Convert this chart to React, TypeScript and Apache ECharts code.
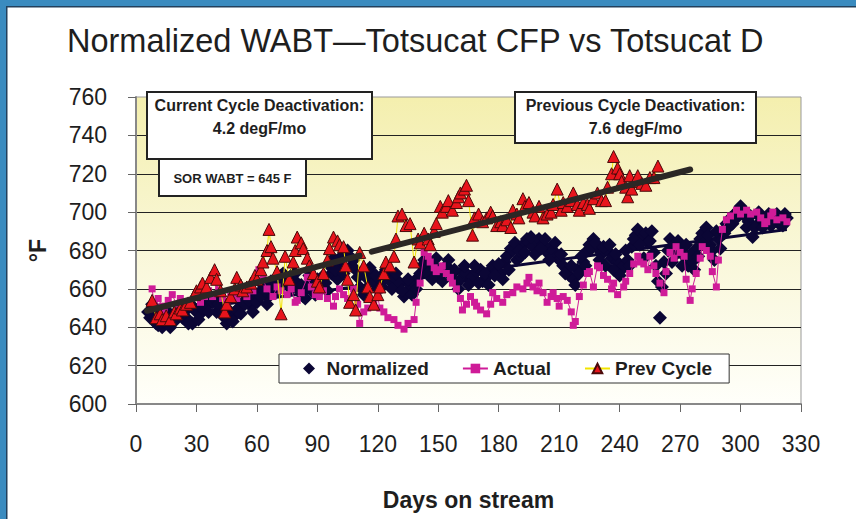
import React, { useEffect, useRef } from "react";
import * as echarts from "echarts";

const TITLE = "Normalized WABT—Totsucat CFP vs Totsucat D";
const X_NAME = "Days on stream";
const Y_NAME = "°F";
const SERIES_NAMES = ["Normalized", "Actual", "Prev Cycle"];

// [day, °F]
const normalized: [number, number][] = [
  [6,648],[8,652],[10,642],[12,646],[13,640],[15,644],[17,640],[19,647],[20,644],[22,650],[25,645],[27,652],[28,642],[30,648],[32,647],[34,654],[35,651],[37,656],[38,653],[40,648],[42,650],[44,645],[45,642],[47,648],[49,646],[51,650],[53,653],[55,657],[57,651],[59,655],[61,658],[63,662],[66,656],[68,660],[70,663],[72,667],[73,668],[75,662],[76,665],[78,668],[80,663],[81,659],[83,656],[85,661],[87,664],[90,665],[92,660],[95,659],[97,668],[98,676],[100,665],[102,672],[104,679],[105,680],[107,672],[108,675],[110,666],[111,661],[113,657],[115,665],[117,668],[118,663],[120,660],[121,665],[123,668],[124,670],[126,664],[128,666],[130,661],[131,663],[133,656],[134,658],[136,662],[138,663],[140,666],[141,668],[143,675],[144,670],[146,674],[148,672],[150,666],[151,668],[153,671],[154,672],[156,667],[157,668],[159,663],[161,665],[162,669],[164,668],[166,664],[167,666],[169,669],[171,670],[172,664],[174,666],[176,670],[177,672],[179,669],[181,668],[183,674],[184,677],[186,681],[187,680],[189,675],[191,677],[192,683],[194,686],[195,684],[197,682],[199,685],[200,686],[202,683],[204,679],[206,682],[207,680],[209,677],[210,675],[212,672],[214,670],[215,667],[217,665],[219,670],[220,668],[222,674],[224,680],[225,683],[227,686],[229,681],[231,678],[234,680],[236,676],[239,674],[241,670],[242,672],[244,675],[246,682],[248,688],[249,691],[251,686],[253,689],[254,684],[255,685],[257,679],[258,672],[259,664],[260,645],[261,661],[262,674],[264,680],[265,686],[267,683],[268,678],[270,680],[272,677],[274,672],[276,674],[278,681],[280,686],[281,689],[283,692],[285,683],[286,680],[287,675],[289,686],[291,690],[293,694],[295,697],[297,699],[299,701],[300,703],[302,698],[304,695],[306,687],[308,693],[310,697],[312,695],[313,696],[315,693],[317,698],[319,694],[320,696],[322,699],[323,697],
  [7,645],[9,650],[11,641],[14,643],[16,648],[18,643],[21,648],[23,645],[24,648],[26,642],[29,650],[31,644],[33,650],[36,648],[39,655],[41,652],[43,647],[46,644],[48,643],[50,649],[52,647],[54,652],[56,654],[58,648],[60,653],[62,656],[64,659],[65,652],[67,664],[69,658],[71,660],[74,664],[77,660],[79,668],[82,662],[84,655],[86,667],[88,660],[89,657],[91,662],[93,667],[94,663],[96,672],[99,670],[101,676],[103,668],[106,677],[109,670],
  [112,668],[114,660],[116,671],[119,667],[122,661],[125,669],[127,660],[129,668],[132,659],[135,665],[137,657],[139,660],[142,672],[145,668],[147,665],[149,676],[152,664],[155,675],[158,670],[160,660],[163,672],[165,662],[168,672],[170,663],[173,668],[175,662],[178,667],[180,673],[182,665],[185,670],[188,684],[190,680],[193,679],[196,687],[198,678],[201,681],[203,686],[205,675],[208,684],[211,678],[213,668],[216,672],[218,662],[221,677],[223,672],[226,681],[228,684],[230,675],[232,682],[233,672],[235,683],[237,670],[238,678],[240,667],[243,680],[245,672],[247,686],[250,683],[252,676],[256,690],[263,668],[266,674],[269,685],[271,672],[273,683],[275,678],[277,670],[279,677],[282,684],[284,688],[288,690],[290,681],[292,689],[294,692],[296,694],[298,697],[301,700],[303,692],[305,698],[307,692],[309,700],[311,692],[314,699],[316,694],[318,699],[321,693]
];

const actual: [number, number][] = [
  [8,660],[9,652],[11,655],[13,651],[14,648],[16,654],[18,657],[20,652],[22,655],[25,651],[27,654],[30,658],[32,653],[34,656],[36,659],[38,656],[41,660],[43,655],[45,652],[47,656],[50,655],[52,658],[55,656],[58,659],[60,664],[61,670],[63,665],[65,660],[68,656],[70,661],[72,659],[75,657],[77,660],[79,653],[80,654],[82,658],[85,666],[87,661],[89,657],[91,656],[93,659],[95,655],[98,651],[99,656],[101,660],[103,657],[105,655],[108,660],[110,652],[111,642],[113,648],[115,650],[118,653],[120,656],[121,650],[123,648],[125,645],[128,644],[130,641],[133,639],[135,642],[138,644],[139,653],[141,663],[143,679],[145,677],[146,674],[148,671],[149,669],[151,670],[152,672],[154,668],[156,666],[157,663],[159,660],[161,655],[162,649],[164,652],[166,656],[168,653],[169,651],[171,649],[174,647],[176,652],[177,658],[179,655],[182,653],[184,657],[187,658],[189,661],[192,660],[194,663],[195,666],[197,661],[199,659],[200,663],[202,658],[204,653],[206,656],[207,658],[209,655],[210,651],[212,656],[214,654],[216,648],[217,641],[218,643],[220,656],[222,662],[224,668],[225,669],[227,661],[229,672],[230,671],[232,667],[234,665],[236,660],[237,663],[239,657],[242,661],[243,664],[245,668],[247,673],[249,677],[250,674],[252,673],[254,670],[255,677],[257,672],[258,668],[260,663],[262,658],[263,669],[265,679],[267,676],[268,682],[270,679],[272,677],[273,665],[275,654],[276,660],[278,668],[280,676],[281,682],[283,680],[285,677],[286,669],[288,661],[289,675],[291,691],[293,696],[295,698],[298,701],[300,699],[303,701],[305,699],[308,700],[310,697],[312,694],[313,695],[315,698],[316,700],[318,696],[321,697],[323,695]
];

const prevCycle: [number, number][] = [
  [8,654],[10,645],[12,647],[13,644],[15,646],[17,644],[19,648],[20,647],[22,650],[23,649],[25,652],[27,653],[29,657],[30,659],[32,661],[33,663],[35,661],[37,666],[39,670],[40,665],[42,659],[44,648],[45,652],[47,656],[49,660],[50,666],[52,662],[53,659],[55,661],[57,663],[59,667],[60,665],[62,670],[63,674],[65,680],[66,691],[67,682],[68,676],[70,669],[72,647],[74,677],[76,665],[78,674],[79,680],[80,687],[82,684],[83,681],[85,676],[86,672],[88,668],[90,664],[91,661],[93,668],[95,675],[96,681],[98,687],[100,685],[101,683],[103,682],[104,672],[105,665],[106,653],[108,657],[109,649],[111,679],[113,672],[115,661],[116,656],[118,652],[120,657],[121,661],[123,668],[124,674],[126,672],[128,677],[129,686],[130,698],[132,699],[134,693],[136,694],[138,674],[140,686],[141,684],[143,689],[145,686],[146,683],[148,690],[149,694],[151,703],[152,700],[154,703],[155,706],[157,701],[159,705],[160,708],[161,710],[163,712],[164,714],[165,706],[167,688],[168,697],[170,699],[172,695],[174,697],[176,700],[177,698],[179,693],[181,695],[182,693],[184,696],[186,692],[187,701],[189,699],[190,697],[192,707],[193,703],[195,705],[197,700],[198,698],[200,703],[202,697],[204,699],[206,700],[207,704],[209,712],[211,701],[212,705],[214,703],[216,706],[217,710],[219,704],[220,701],[222,705],[224,704],[225,702],[227,707],[229,710],[231,706],[233,706],[234,713],[236,720],[237,729],[239,723],[240,720],[241,716],[243,713],[244,708],[245,719],[246,712],[248,716],[249,719],[251,715],[253,714],[255,718],[257,718],[259,724]
];

// trend lines
const prevTrendA: [number, number][] = [[5.5, 648.6], [111, 677.3]];
const prevTrendB: [number, number][] = [[117, 679.4], [275, 722.2]];
const currTrend: [number, number][] = [[8, 647], [323, 691]];

const NOTE_CURRENT = ["Current Cycle Deactivation:", "4.2 degF/mo"];
const NOTE_PREV = ["Previous Cycle Deactivation:", "7.6 degF/mo"];
const NOTE_SOR = "SOR WABT = 645 F";

const FONT = "'Liberation Sans', Arial, sans-serif";

export default function App() {
  const ref = useRef<HTMLDivElement>(null);
  useEffect(() => {
    if (!ref.current) return;
    const chart = echarts.init(ref.current, null, { renderer: "svg" });
    const noteText = (x: number, y: number, text: string, size: number) => ({
      type: "text",
      z: 101,
      style: {
        text,
        x,
        y,
        textAlign: "center",
        textVerticalAlign: "middle",
        font: `bold ${size}px ${FONT}`,
        fill: "#1e1e1e",
      },
    });
    const option: any = {
      animation: false,
      backgroundColor: "#ffffff",
      title: {
        text: TITLE,
        left: 62,
        top: 19,
        textStyle: { fontFamily: FONT, fontSize: 32.5, fontWeight: "normal", color: "#1e1e1e" },
      },
      grid: {
        left: 136,
        right: 55,
        top: 97,
        bottom: 115,
        show: true,
        borderColor: "#999",
        borderWidth: 1,
        backgroundColor: {
          type: "linear",
          x: 0, y: 0, x2: 0, y2: 1,
          colorStops: [
            { offset: 0, color: "#f4efae" },
            { offset: 0.5, color: "#f9f7d8" },
            { offset: 1, color: "#fffffa" },
          ],
        },
      },
      legend: {
        data: [
          { name: SERIES_NAMES[0], icon: "path://M5,0 L10,5 L5,10 L0,5 Z" },
          { name: SERIES_NAMES[1] },
          { name: SERIES_NAMES[2] },
        ],
        left: 279,
        top: 354,
        padding: [5, 17, 5, 24],
        itemGap: 33,
        itemWidth: 25,
        itemHeight: 12,
        symbolKeepAspect: true,
        backgroundColor: "#ffffff",
        borderColor: "#333",
        borderWidth: 1,
        textStyle: { fontFamily: FONT, fontSize: 19, fontWeight: "bold", color: "#1e1e1e" },
      },
      xAxis: {
        type: "value",
        min: 0,
        max: 330,
        interval: 30,
        name: X_NAME,
        nameLocation: "middle",
        nameGap: 84,
        nameTextStyle: { fontFamily: FONT, fontSize: 23, fontWeight: "bold", color: "#1e1e1e" },
        axisLine: { show: true, lineStyle: { color: "#888", width: 2 } },
        axisTick: { show: true, length: 8, lineStyle: { color: "#666", width: 1 } },
        axisLabel: { margin: 28, fontFamily: FONT, fontSize: 23, color: "#1e1e1e" },
        splitLine: { show: false },
      },
      yAxis: {
        type: "value",
        min: 600,
        max: 760,
        interval: 20,
        name: Y_NAME,
        nameLocation: "middle",
        nameRotate: 90,
        nameGap: 87,
        nameTextStyle: { fontFamily: FONT, fontSize: 23, fontWeight: "bold", color: "#1e1e1e" },
        axisLine: { show: true, lineStyle: { color: "#888", width: 2 } },
        axisTick: { show: true, length: 8, lineStyle: { color: "#666", width: 1 } },
        axisLabel: { margin: 29, fontFamily: FONT, fontSize: 23, color: "#1e1e1e" },
        splitLine: { show: true, showMinLine: false, showMaxLine: false, lineStyle: { color: "#222", width: 1 } },
      },
      series: [
        {
          name: "currTrend",
          type: "line",
          data: currTrend,
          symbol: "none",
          lineStyle: { color: "#0b0635", width: 3 },
          silent: true,
          z: 1,
        },
        {
          name: "Normalized",
          type: "scatter",
          data: normalized,
          symbol: "diamond",
          symbolSize: 14,
          itemStyle: { color: "#0b0635", opacity: 1 },
          z: 2,
        },
        {
          name: "Actual",
          type: "line",
          data: actual,
          symbol: "rect",
          symbolSize: 7,
          itemStyle: { color: "#cf1b98" },
          lineStyle: { color: "#cf1b98", width: 1 },
          z: 4,
        },
        {
          name: "Prev Cycle",
          type: "line",
          data: prevCycle,
          symbol: "triangle",
          symbolSize: 12,
          itemStyle: { color: "#e8141c", borderColor: "#4a0a0a", borderWidth: 1 },
          lineStyle: { color: "#f2e400", width: 1 },
          z: 5,
        },
        {
          name: "prevTrendA",
          type: "line",
          data: prevTrendA,
          symbol: "none",
          lineStyle: { color: "#2b2725", width: 6, cap: "round" },
          silent: true,
          z: 6,
        },
        {
          name: "prevTrendB",
          type: "line",
          data: prevTrendB,
          symbol: "none",
          lineStyle: { color: "#2b2725", width: 6, cap: "round" },
          silent: true,
          z: 6,
        },
      ],
      graphic: [
        { type: "rect", z: 100, shape: { x: 0, y: 0, width: 856, height: 6 }, style: { fill: "#3a8bbf" } },
        { type: "rect", z: 100, shape: { x: 0, y: 6, width: 856, height: 1.5 }, style: { fill: "#22405c" } },
        { type: "rect", z: 100, shape: { x: 0, y: 0, width: 6, height: 519 }, style: { fill: "#3a8bbf" } },
        { type: "rect", z: 100, shape: { x: 6, y: 6, width: 1.5, height: 513 }, style: { fill: "#22405c" } },
        // SOR box
        { type: "rect", z: 100, shape: { x: 159, y: 159, width: 147, height: 37 }, style: { fill: "#fff", stroke: "#222", lineWidth: 2 } },
        noteText(232.5, 178, NOTE_SOR, 13),
        // Current cycle box
        { type: "rect", z: 100, shape: { x: 147, y: 92, width: 225, height: 67 }, style: { fill: "#fff", stroke: "#222", lineWidth: 2 } },
        noteText(259.5, 105, NOTE_CURRENT[0], 16),
        noteText(259.5, 128, NOTE_CURRENT[1], 16),
        // Previous cycle box
        { type: "rect", z: 100, shape: { x: 515, y: 92, width: 241, height: 51 }, style: { fill: "#fff", stroke: "#222", lineWidth: 2 } },
        noteText(635.5, 105, NOTE_PREV[0], 16),
        noteText(635.5, 128, NOTE_PREV[1], 16),
      ],
    };
    chart.setOption(option);
    return () => chart.dispose();
  }, []);
  return (
    <div
      ref={ref}
      style={{ position: "fixed", left: 0, top: 0, width: 856, height: 519, background: "#fff" }}
    />
  );
}
